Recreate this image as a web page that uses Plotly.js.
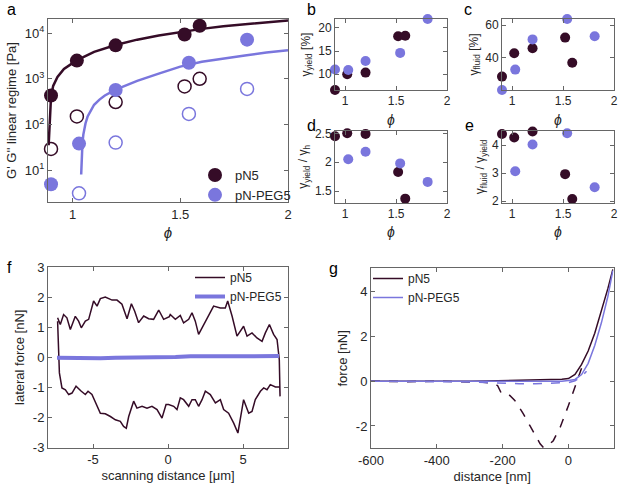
<!DOCTYPE html>
<html><head><meta charset="utf-8">
<script src="https://cdn.plot.ly/plotly-3.0.1.min.js"></script>
<style>html,body{margin:0;padding:0;background:#fff}#plot{width:618px;height:487px}</style>
</head><body><div id="plot"></div>
<script>
// ---- data ----
const phiN5 = [0.9, 1.02, 1.2, 1.52, 1.59];
const phiPEG = [0.9, 1.03, 1.2, 1.54, 1.81];
const gPrimeN5 = [430, 2500, 5400, 9300, 14500];
const gDoubleN5 = [29, 150, 310, 680, 1000];
const gPrimePEG = [4.9, 38, 570, 2250, 7200];
const gDoublePEG = [null, 3.1, 40, 170, 600];
const fitPhiN5 = [0.889, 0.893, 0.897, 0.9, 0.91, 0.93, 0.96, 1.0, 1.05, 1.1, 1.2, 1.3, 1.4, 1.5, 1.6, 1.7, 1.8, 1.9, 2.0];
const fitGN5 = [35, 90, 220, 400, 700, 1100, 1650, 2200, 3000, 3900, 5500, 7200, 8900, 10600, 12400, 14100, 15700, 17400, 19000];
const fitPhiPEG = [1.04, 1.042, 1.046, 1.05, 1.06, 1.07, 1.085, 1.1, 1.125, 1.15, 1.2, 1.3, 1.4, 1.5, 1.6, 1.7, 1.8, 1.9, 2.0];
const fitGPEG = [8, 18, 40, 60, 105, 150, 210, 270, 350, 430, 580, 900, 1300, 1850, 2350, 2800, 3250, 3750, 4200];
const yieldN5 = [6.6, 10.0, 10.35, 18.2, 18.3];
const yieldPEG = [11.0, 10.9, 12.85, 14.6, 21.9];
const fluidN5 = [28.4, 42.7, 45.8, 52.3, 36.9];
const fluidPEG = [20.2, 32.7, 51.2, 63.7, 53.1];
const yieldHN5 = [2.45, 2.5, 2.49, 1.83, 1.37];
const yieldHPEG = [null, 2.05, 2.18, 1.98, 1.66];
const fluidYieldN5 = [4.39, 4.27, 4.48, 2.96, 2.07];
const fluidYieldPEG = [1.93, 3.06, 4.02, 4.42, 2.49];
// lateral force loop (trace: left->right, retrace: right->left)
const traceX = [-7.36,-7.18,-6.96,-6.74,-6.51,-6.18,-5.96,-5.78,-5.51,-5.29,-4.96,-4.73,-4.51,-4.18,-3.73,-3.40,-3.07,-2.73,-2.44,-2.22,-1.96,-1.62,-1.29,-0.96,-0.62,-0.29,0.09,0.15,0.49,0.82,1.04,1.38,1.60,1.82,2.04,2.38,2.71,3.04,3.49,3.82,3.98,4.27,4.60,5.04,5.27,5.60,5.93,6.27,6.49,6.76,7.04,7.27,7.42,7.47];
const traceF = [1.31,1.09,1.42,1.31,0.92,1.36,1.20,0.98,1.20,1.26,1.87,1.70,1.95,2.00,1.90,1.90,1.76,1.28,1.78,1.53,1.15,1.37,1.28,1.26,1.57,1.26,1.35,1.42,1.26,1.39,1.14,1.26,1.48,1.20,0.76,1.09,1.42,1.70,1.64,1.64,1.87,1.37,0.70,1.03,0.70,0.81,0.64,0.53,0.81,1.09,0.76,0.59,-0.08,-1.30];
const retraceX = [7.45,7.16,6.82,6.60,6.38,6.16,5.82,5.60,5.38,5.04,4.82,4.66,4.38,4.04,3.71,3.49,3.16,2.82,2.49,2.27,2.04,1.82,1.60,1.38,1.04,0.82,0.60,0.38,0.04,-0.13,-0.40,-0.73,-1.07,-1.40,-1.73,-2.07,-2.29,-2.62,-2.78,-2.96,-3.18,-3.51,-3.84,-4.18,-4.51,-4.73,-5.07,-5.33,-5.51,-5.78,-6.13,-6.40,-6.62,-6.84,-7.07,-7.24,-7.36];
const retraceF = [-0.98,-0.99,-0.91,-1.08,-1.02,-1.13,-1.41,-1.80,-1.86,-1.41,-2.08,-2.52,-2.19,-1.86,-1.74,-1.41,-1.52,-1.24,-1.13,-1.41,-1.63,-1.41,-1.41,-1.63,-1.41,-1.35,-1.74,-1.63,-1.57,-1.57,-2.02,-1.74,-1.63,-1.69,-1.63,-1.69,-1.46,-1.97,-2.36,-2.30,-2.13,-2.08,-1.97,-1.88,-1.86,-1.63,-1.24,-1.13,-1.24,-1.13,-0.96,-1.19,-1.24,-1.08,-1.02,-0.52,1.2];
const pegLatX = [-7.4,-6.5,-5.5,-4.5,-3.5,-2.5,-1.5,-0.5,0.5,1.5,2.5,3.5,4.5,5.5,6.5,7.4];
const pegLatF = [-0.02,-0.03,-0.02,-0.03,-0.02,-0.02,-0.01,-0.01,0.01,0.03,0.03,0.04,0.04,0.04,0.05,0.04];
// force-distance curves
const approachD = [-600,-500,-400,-300,-250,-200,-150,-100,-50,-20,0,20,40,60,80,100,120,135];
const approachN5 = [0,-0.01,0,0,0.01,0.02,0.04,0.06,0.08,0.09,0.12,0.3,0.75,1.35,2.15,3.1,4.15,5.0];
const approachPEG = [0,0,-0.01,-0.02,-0.03,-0.03,-0.02,-0.02,-0.01,0,0.03,0.08,0.3,0.8,1.6,2.6,3.8,4.95];
const retractDN5 = [-600,-500,-400,-300,-260,-230,-215,-203,-190,-178,-163,-150,-137,-117,-100,-86,-76,-60,-46,-25,0,20,41,56];
const retractN5 = [0,-0.02,0,-0.02,-0.05,-0.08,-0.2,-0.57,-0.6,-0.64,-0.86,-1.15,-1.46,-1.99,-2.4,-2.8,-2.96,-2.85,-2.66,-2.06,-1.09,-0.27,0.63,0.9];
const retractDPEG = [-600,-500,-400,-300,-250,-200,-150,-100,-50,0,20,40,55];
const retractPEG = [0,0,-0.01,-0.03,-0.06,-0.1,-0.11,-0.11,-0.1,-0.06,0.02,0.2,0.45];
const tickPhi = [1, 1.5, 2];
const labelsAll = ['a','b','c','d','e','f','g'];

// ---- style ----
const DARK = '#350c27', BLUE = '#7a76dd';
const FONT = '"Liberation Sans", Arial, sans-serif';
const W = 618, H = 487;
function dom(p0, p1, vertical) { return vertical ? [1 - p1 / H, 1 - p0 / H] : [p0 / W, p1 / W]; }
function ax(extra) {
  return Object.assign({
    showline: true, mirror: 'ticks', linecolor: '#666', linewidth: 1,
    ticks: 'inside', ticklen: 4, tickcolor: '#666', showgrid: false, zeroline: false,
    tickfont: {family: FONT, size: 13, color: '#262626'}
  }, extra);
}
function ttl(text, size, standoff) {
  return {text: text, font: {family: FONT, size: size, color: '#262626'}, standoff: standoff};
}
const small = {family: FONT, size: 12, color: '#262626'};

const traces = [];
function pts(x, y, color, open, size, xa, ya, name, legend) {
  const t = {
    x: x, y: y, type: 'scatter', mode: 'markers', xaxis: xa, yaxis: ya, cliponaxis: false,
    showlegend: !!legend,
    marker: open ? {size: size, color: 'rgba(0,0,0,0)', line: {color: color, width: 1.5}}
                 : {size: size, color: color, line: {width: 0}}
  };
  if (name) { t.name = name; t.legend = legend; }
  traces.push(t);
}
// a
traces.push({x: fitPhiN5, y: fitGN5, type: 'scatter', mode: 'lines', line: {color: DARK, width: 2.5}, xaxis: 'x', yaxis: 'y', showlegend: false});
traces.push({x: fitPhiPEG, y: fitGPEG, type: 'scatter', mode: 'lines', line: {color: BLUE, width: 2.5}, xaxis: 'x', yaxis: 'y', showlegend: false});
pts(phiN5, gDoubleN5, DARK, true, 13, 'x', 'y');
pts(phiPEG, gDoublePEG, BLUE, true, 13, 'x', 'y');
pts(phiN5, gPrimeN5, DARK, false, 14, 'x', 'y', 'pN5', 'legend');
pts(phiPEG, gPrimePEG, BLUE, false, 14, 'x', 'y', 'pN-PEG5', 'legend');
// b-e
pts(phiN5, yieldN5, DARK, false, 10, 'x2', 'y2');
pts(phiPEG, yieldPEG, BLUE, false, 10, 'x2', 'y2');
pts(phiN5, fluidN5, DARK, false, 10, 'x3', 'y3');
pts(phiPEG, fluidPEG, BLUE, false, 10, 'x3', 'y3');
pts(phiN5, yieldHN5, DARK, false, 10, 'x4', 'y4');
pts(phiPEG, yieldHPEG, BLUE, false, 10, 'x4', 'y4');
pts(phiN5, fluidYieldN5, DARK, false, 10, 'x5', 'y5');
pts(phiPEG, fluidYieldPEG, BLUE, false, 10, 'x5', 'y5');
// f
traces.push({x: traceX.concat(retraceX), y: traceF.concat(retraceF), type: 'scatter', mode: 'lines', line: {color: DARK, width: 1.5}, xaxis: 'x6', yaxis: 'y6', name: 'pN5', legend: 'legend2'});
traces.push({x: pegLatX, y: pegLatF, type: 'scatter', mode: 'lines', line: {color: BLUE, width: 4}, xaxis: 'x6', yaxis: 'y6', name: 'pN-PEG5', legend: 'legend2'});
// g
traces.push({x: retractDN5, y: retractN5, type: 'scatter', mode: 'lines', line: {color: DARK, width: 1.5, dash: 'dash'}, xaxis: 'x7', yaxis: 'y7', showlegend: false});
traces.push({x: retractDPEG, y: retractPEG, type: 'scatter', mode: 'lines', line: {color: BLUE, width: 1.5, dash: 'dash'}, xaxis: 'x7', yaxis: 'y7', showlegend: false});
traces.push({x: approachD, y: approachN5, type: 'scatter', mode: 'lines', line: {color: DARK, width: 1.5}, xaxis: 'x7', yaxis: 'y7', name: 'pN5', legend: 'legend3'});
traces.push({x: approachD, y: approachPEG, type: 'scatter', mode: 'lines', line: {color: BLUE, width: 1.5}, xaxis: 'x7', yaxis: 'y7', name: 'pN-PEG5', legend: 'legend3'});

const phiTitle = '<i>ϕ</i>';
const smallX = (a, d) => ax({anchor: a, domain: d, range: [0.9, 2.0], tickvals: tickPhi, tickfont: small, title: ttl(phiTitle, 14, 7)});
const layout = {
  width: W, height: H, margin: {l: 0, r: 0, t: 0, b: 0}, paper_bgcolor: '#fff', plot_bgcolor: '#fff',
  font: {family: FONT, color: '#262626'},
  xaxis: ax({anchor: 'y', domain: dom(48, 288), range: [0.886, 2], tickvals: tickPhi, title: ttl(phiTitle, 15, 6)}),
  yaxis: ax({anchor: 'x', domain: dom(19, 202, true), type: 'log', range: [Math.log10(2), Math.log10(20400)],
    tickvals: [10, 100, 1000, 10000], ticktext: ['10<sup>1</sup>', '10<sup>2</sup>', '10<sup>3</sup>', '10<sup>4</sup>'],
    title: ttl("G' G'' linear regime [Pa]", 13, 5)}),
  xaxis2: smallX('y2', dom(335, 447)),
  yaxis2: ax({anchor: 'x2', domain: dom(19, 90, true), range: [6.6, 21.9], tickvals: [10, 15, 20], tickfont: small, title: ttl('γ<sub>yield</sub> [%]', 12, 5)}),
  xaxis3: smallX('y3', dom(502, 614)),
  yaxis3: ax({anchor: 'x3', domain: dom(19, 90, true), range: [20.2, 63.7], tickvals: [40, 60], tickfont: small, title: ttl('γ<sub>fluid</sub> [%]', 12, 4)}),
  xaxis4: smallX('y4', dom(335, 447)),
  yaxis4: ax({anchor: 'x4', domain: dom(131, 202.7, true), range: [1.3, 2.54], tickvals: [1.5, 2, 2.5], tickfont: small, title: ttl('γ<sub>yield</sub> / γ<sub>h</sub>', 12, 4)}),
  xaxis5: smallX('y5', dom(502, 614)),
  yaxis5: ax({anchor: 'x5', domain: dom(131, 202.7, true), range: [1.94, 4.5], tickvals: [2, 3, 4], tickfont: small, title: ttl('γ<sub>fluid</sub> / γ<sub>yield</sub>', 12, 4)}),
  xaxis6: ax({anchor: 'y6', domain: dom(48, 288), range: [-8, 8], tickvals: [-5, 0, 5], ticktext: ['-5', '0', '5'], title: ttl('scanning distance [μm]', 13, 4)}),
  yaxis6: ax({anchor: 'x6', domain: dom(267, 447.5, true), range: [-3, 3], tickvals: [-3, -2, -1, 0, 1, 2, 3], ticktext: ['-3', '-2', '-1', '0', '1', '2', '3'], title: ttl('lateral force [nN]', 13, 5)}),
  xaxis7: ax({anchor: 'y7', domain: dom(371, 613.5), range: [-600, 137], tickvals: [-600, -400, -200, 0], ticktext: ['-600', '-400', '-200', '0'], title: ttl('distance [nm]', 13, 4)}),
  yaxis7: ax({anchor: 'x7', domain: dom(268.3, 448.3, true), range: [-3, 5.05], tickvals: [-2, 0, 2, 4], ticktext: ['-2', '0', '2', '4'], title: ttl('force [nN]', 13, 5)}),
  legend: {x: 195 / W, y: 1 - 160 / H, xanchor: 'left', yanchor: 'top', bgcolor: 'rgba(0,0,0,0)', font: {family: FONT, size: 13, color: '#262626'}, tracegroupgap: 0, itemwidth: 30},
  legend2: {x: 190 / W, y: 1 - 263 / H, xanchor: 'left', yanchor: 'top', bgcolor: 'rgba(0,0,0,0)', font: {family: FONT, size: 12, color: '#262626'}, tracegroupgap: 0, itemwidth: 30},
  legend3: {x: 368 / W, y: 1 - 264 / H, xanchor: 'left', yanchor: 'top', bgcolor: 'rgba(0,0,0,0)', font: {family: FONT, size: 12, color: '#262626'}, tracegroupgap: 0, itemwidth: 30},
  annotations: [[5, 10], [305, 10], [462, 10], [305, 126], [463, 126], [5, 267], [327, 268]].map((p, i) => ({
    text: labelsAll[i], x: p[0] / W, y: 1 - p[1] / H, xref: 'paper', yref: 'paper', xanchor: 'left', yanchor: 'middle',
    showarrow: false, font: {family: FONT, size: 16, color: '#000'}
  }))
};
Plotly.newPlot('plot', traces, layout, {staticPlot: true});
</script></body></html>
